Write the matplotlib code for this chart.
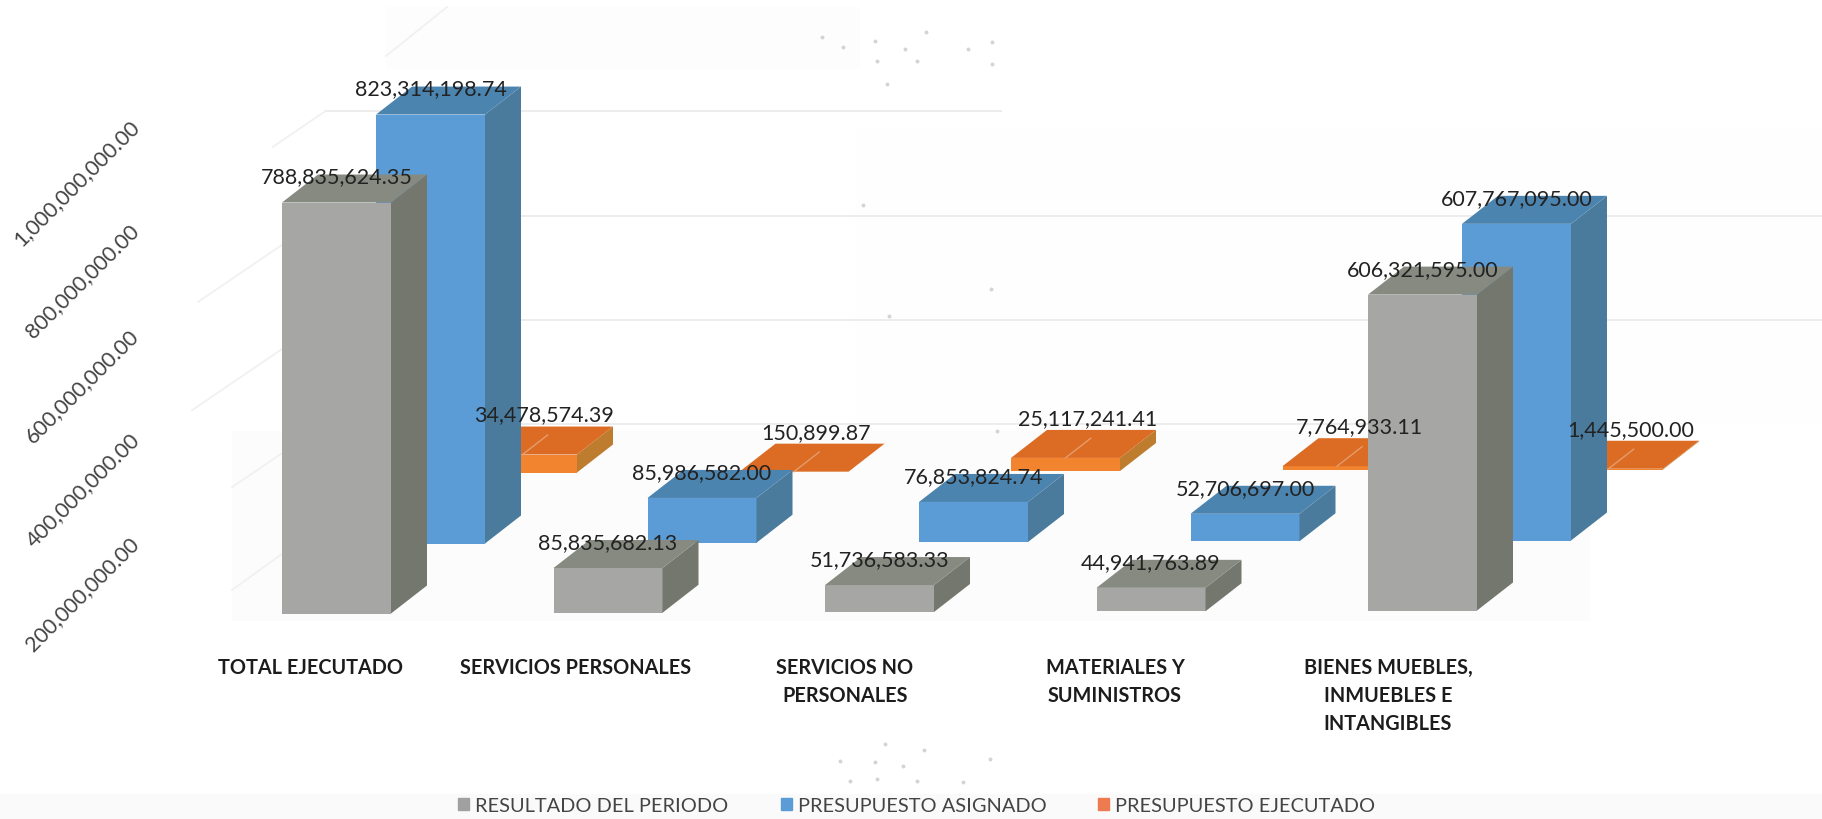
import matplotlib
matplotlib.use("Agg")
import matplotlib.pyplot as plt
from matplotlib.patches import Polygon, Rectangle, Patch

categories = ["TOTAL EJECUTADO", "SERVICIOS PERSONALES", "SERVICIOS NO\nPERSONALES",
              "MATERIALES Y\nSUMINISTROS", "BIENES MUEBLES,\nINMUEBLES E\nINTANGIBLES"]
resultado = [788835624.35, 85835682.13, 51736583.33, 44941763.89, 606321595.00]
asignado = [823314198.74, 85986582.00, 76853824.74, 52706697.00, 607767095.00]
ejecutado = [34478574.39, 150899.87, 25117241.41, 7764933.11, 1445500.00]
axis_ticks = [200000000, 400000000, 600000000, 800000000, 1000000000]
wall_grid = [0, 200000000, 400000000, 600000000]

W, H = 1822, 820
CAT_PX = 271.5
PX_PER_VAL = 0.521e-6
X0, Y0 = 282, 614.5


def px_x(px):
    return (px - X0) / CAT_PX


def px_y(px):
    return (Y0 - px) / PX_PER_VAL


def dx(px):
    return px / CAT_PX


def dy(px):
    return px / PX_PER_VAL


plt.rcParams["font.family"] = ["Lato", "DejaVu Sans"]

fig = plt.figure(figsize=(W / 100, H / 100), dpi=100)
ax = fig.add_axes([0, 0, 1, 1])
ax.set_xlim(px_x(0), px_x(W))
ax.set_ylim(px_y(H), px_y(0))
ax.axis("off")

# faint scan tints behind the chart
for x1, y1, x2, y2, col in [(386, 8, 860, 70, "#fdfdfd"), (232, 432, 1590, 622, "#fcfcfc"),
                            (855, 130, 1822, 425, "#fefefe"), (0, 795, W, H, "#fafafa")]:
    ax.add_patch(Rectangle((px_x(x1), px_y(y2)), dx(x2 - x1), dy(y2 - y1), fc=col, ec="none", zorder=0))

# back wall grid and the depth lines on the side wall
wall_base = px_y(425)
depth_len = [93, 133, 127, 52]
for v, length in zip(wall_grid, depth_len):
    right = px_x(1001) if v == 600000000 else px_x(W if v > 0 else 1560)
    ax.plot([px_x(325), right], [wall_base + v, wall_base + v], color="#ececec", lw=1.3, zorder=1)
    ax.plot([px_x(325), px_x(325) - dx(length)], [wall_base + v, wall_base + v - dy(length * 0.68)],
            color="#f1f1f1", lw=1.3, zorder=1)
ax.plot([px_x(447), px_x(386)], [px_y(8), px_y(57)], color="#f1f1f1", lw=1.3, zorder=1)
ax.plot([px_x(282), px_x(232)], [px_y(555), px_y(591)], color="#f1f1f1", lw=1.3, zorder=1)

bar_w = dx(109)
depth_x, depth_y = dx(36), dy(28)
tilt = dy(0.75)

# values, offset of the row, front / top / side colours, label shift
rows = [
    (ejecutado, dx(186), dy(141), "#f2842f", "#dc6c24", "#bd7c2e", dx(22), dy(12)),
    (asignado, dx(94), dy(70), "#5b9cd6", "#4c84b0", "#4a7b9c", 0, dy(-2)),
    (resultado, 0, 0, "#a6a7a4", "#868a80", "#74776d", 0, dy(-2)),
]

z = 2
for values, off_x, off_y, c_front, c_top, c_side, lab_x, lab_y in rows:
    for i, val in enumerate(values):
        x = i + off_x
        y = off_y + i * tilt
        ax.add_patch(Polygon([(x, y), (x + bar_w, y), (x + bar_w, y + val), (x, y + val)],
                             fc=c_front, ec="none", zorder=z))
        ax.add_patch(Polygon([(x + bar_w, y), (x + bar_w + depth_x, y + depth_y),
                              (x + bar_w + depth_x, y + val + depth_y), (x + bar_w, y + val)],
                             fc=c_side, ec="none", zorder=z))
        ax.add_patch(Polygon([(x, y + val), (x + bar_w, y + val), (x + bar_w + depth_x, y + val + depth_y),
                              (x + depth_x, y + val + depth_y)], fc=c_top, ec="none", zorder=z))
        if values is ejecutado:
            # grid line showing through the flat orange tops
            ax.plot([x + bar_w * 0.5, x + bar_w * 0.5 + depth_x * 0.7], [y + val, y + val + depth_y * 0.7],
                    color="#e59c6c", lw=1, zorder=z)
        ax.text(x + bar_w / 2 + lab_x, y + val + depth_y + lab_y, f"{val:,.2f}", ha="center", va="center",
                fontsize=15.5, color="#222222", zorder=20)
        z += 1

# rotated axis labels
for v in axis_ticks:
    ax.text(px_x(143), px_y(638) + v, f"{v:,.2f}", rotation=45, ha="right", va="top",
            fontsize=15.5, color="#444444", zorder=20)

# category labels
cat_centers = [310, 576, 845, 1115, 1388]
for c, name in zip(cat_centers, categories):
    ax.text(px_x(c), px_y(658), name, ha="center", va="top", fontsize=14.3, fontweight="bold",
            color="#1c1c1c", linespacing=1.5, zorder=20)

# leftovers of the erased title and other scan specks
speck_x = [875, 877, 905, 926, 968, 992, 992, 843, 917, 887, 822,
           990, 840, 875, 903, 877, 924, 885, 917, 850, 963, 863, 889, 991, 997]
speck_y = [42, 62, 50, 33, 50, 65, 43, 48, 62, 85, 38,
           760, 762, 763, 767, 780, 751, 745, 782, 782, 783, 206, 317, 290, 432]
ax.scatter([px_x(p) for p in speck_x], [px_y(p) for p in speck_y], s=8, color="#d4d4d4",
           linewidths=0, zorder=1)

handles = [Patch(color="#a0a0a0"), Patch(color="#5b9cd6"), Patch(color="#ee7a50")]
fig.legend(handles, ["RESULTADO DEL PERIODO", "PRESUPUESTO ASIGNADO", "PRESUPUESTO EJECUTADO"],
           loc="center", bbox_to_anchor=(917 / W, 1 - 807 / H), ncol=3, frameon=False, fontsize=14.4,
           labelcolor="#444444", handlelength=0.55, handleheight=0.55, handletextpad=0.3, columnspacing=2.6)

fig.savefig("out.png", dpi=100, facecolor="white")
